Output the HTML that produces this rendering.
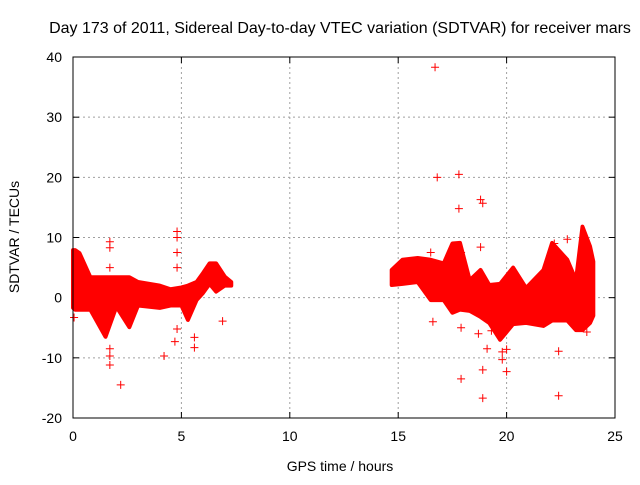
<!DOCTYPE html>
<html><head><meta charset="utf-8"><style>
body{margin:0;background:#fff}
svg text{font-family:"Liberation Sans",sans-serif;font-size:14px;fill:#000}
</style></head><body>
<svg id="chart" width="640" height="480">
<text x="340" y="33" text-anchor="middle" style="font-size:16px">Day 173 of 2011, Sidereal Day-to-day VTEC variation (SDTVAR) for receiver mars</text>
<text x="340" y="471" text-anchor="middle">GPS time / hours</text>
<text transform="translate(19,237) rotate(-90)" text-anchor="middle">SDTVAR / TECUs</text>
<g id="grid"></g><g id="axes"></g><g id="marks"></g>
<rect x="73" y="57" width="542" height="361" fill="none" stroke="#000" stroke-width="1"/>
</svg>
<script>
const xTicks=[0,5,10,15,20,25];
const yTicks=[-20,-10,0,10,20,30,40];
const seg1Hours=[0,0.1,0.3,0.8,1.5,2.0,2.6,3.0,4.0,4.5,5.0,5.3,5.7,6.0,6.3,6.6,7.0,7.3];
const seg1High=[7.9,7.9,7.4,3.4,3.4,3.4,3.4,2.6,2.0,1.4,1.7,2.0,2.6,4.1,5.7,5.7,3.5,2.6];
const seg1Low=[-1.7,-2,-2,-2,-6.5,-1.5,-4.9,-1.3,-1.7,-1.3,-1.3,-3.7,-0.4,0.8,2.3,1.0,2.0,2.0];
const seg2Hours=[14.7,15.2,15.9,16.5,17.1,17.5,17.85,18.3,18.8,19.2,19.7,20.3,20.9,21.7,22.1,22.8,23.2,23.5,23.85,24.0];
const seg2High=[4.6,6.3,6.6,6.3,5.7,9,9.1,2.9,4.6,2.1,2.3,5.0,1.6,4.6,9.1,6.3,2.9,11.8,8.5,6];
const seg2Low=[2.1,2.3,2.6,-0.4,-0.4,-2.5,-2.0,-2.2,-3.2,-4.2,-7,-4.4,-4.2,-4.7,-3.8,-3.8,-5.4,-5.4,-4.2,-3];
const outHours=[16.7,16.8,17.8,17.8,18.8,18.9,4.8,4.8,1.7,1.7,1.7,4.8,4.8,4.2,2.2,1.7,1.7,1.7,4.7,4.8,5.6,5.6,6.9,0.05,17.9,18.9,22.4,22.4,18.9,19.1,20,19.8,19.8,20,17.9,17.9,18.8,22.2,22.8,23.7,16.5,16.6,18.7,19.3];
const outVals=[38.3,20,20.5,14.8,16.3,15.7,11,10,9.3,8.3,5,7.5,5,-9.7,-14.5,-9.7,-11.2,-8.5,-7.3,-5.2,-8.3,-6.6,-3.9,-3.3,-13.5,-16.7,-16.3,-8.9,-12,-8.5,-12.3,-10.3,-9,-8.6,-5,7.5,8.4,9,9.7,-5.7,7.5,-4,-6,-5.5];
const NS="http://www.w3.org/2000/svg";
const xS=h=>73+h*542/25, yS=v=>57+(40-v)*361/60;
function mk(t,a,p){const e=document.createElementNS(NS,t);for(const k in a)e.setAttribute(k,a[k]);p.appendChild(e);return e;}
const grid=document.getElementById('grid'),axes=document.getElementById('axes'),marks=document.getElementById('marks');
xTicks.forEach(t=>{const x=xS(t);
 if(t>0&&t<25){const g=mk('line',{x1:x,x2:x,y1:57,y2:418,stroke:'#a0a0a0','stroke-dasharray':'2,3'},grid);
 }
 mk('line',{x1:x,x2:x,y1:418,y2:412,stroke:'#000'},axes);mk('line',{x1:x,x2:x,y1:57,y2:63,stroke:'#000'},axes);
 const l=mk('text',{x:x,y:441,'text-anchor':'middle'},axes);l.textContent=t;
 });
yTicks.forEach(t=>{const y=yS(t);
 if(t>-20&&t<40){const g=mk('line',{x1:73,x2:615,y1:y,y2:y,stroke:'#a0a0a0','stroke-dasharray':'2,3'},grid);
 }
 mk('line',{x1:73,x2:79,y1:y,y2:y,stroke:'#000'},axes);mk('line',{x1:615,x2:609,y1:y,y2:y,stroke:'#000'},axes);
 const l=mk('text',{x:62,y:y+5,'text-anchor':'end'},axes);l.textContent=t;
 });
function band(hs,hi,lo,name){
 const pts=hs.map((h,i)=>xS(h)+','+yS(hi[i])).concat(hs.slice().reverse().map((h,j)=>{const i=hs.length-1-j;return xS(h)+','+yS(lo[i]);}));
 const p=mk('polygon',{points:pts.join(' '),fill:'#f00',stroke:'#f00','stroke-width':4,'stroke-linejoin':'round'},marks);
 }
band(seg1Hours,seg1High,seg1Low,'sdtvar-band-early');
band(seg2Hours,seg2High,seg2Low,'sdtvar-band-late');
outHours.forEach((h,i)=>{const x=xS(h),y=yS(outVals[i]);
 const c=mk('path',{d:`M${x-4},${y}H${x+4}M${x},${y-4}V${y+4}`,stroke:'#f00','stroke-width':1},marks);
 });
</script>
</body></html>
